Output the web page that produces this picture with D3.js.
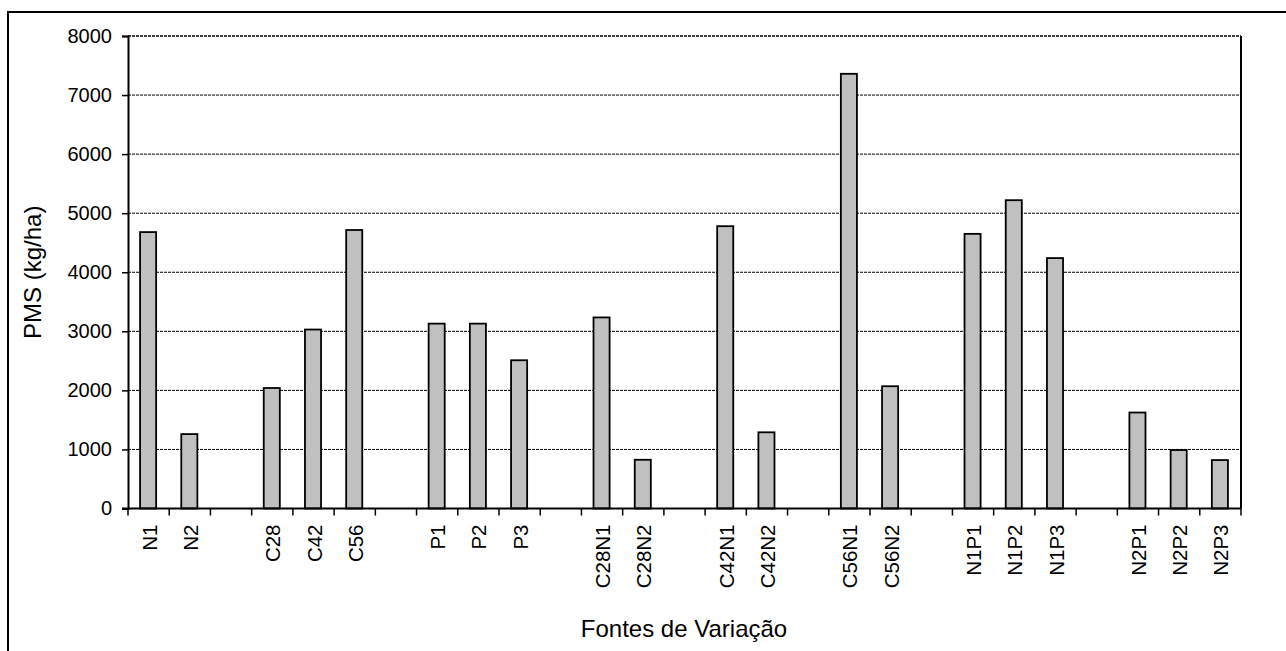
<!DOCTYPE html>
<html>
<head>
<meta charset="utf-8">
<script src="https://cdn.jsdelivr.net/npm/d3@7"></script>
<style>
  html, body { margin: 0; padding: 0; background: #fff; }
  svg { display: block; font-family: "Liberation Sans", Arial, sans-serif; }
</style>
</head>
<body>
<svg id="chart" width="1286" height="651"></svg>
<script>
// Categories ("" = empty slot separating groups)
const categories = ["N1","N2","","C28","C42","C56","","P1","P2","P3","","C28N1","C28N2","","C42N1","C42N2","","C56N1","C56N2","","N1P1","N1P2","N1P3","","N2P1","N2P2","N2P3"];
const values = [4680,1260,null,2040,3030,4715,null,3130,3130,2510,null,3235,825,null,4780,1290,null,7360,2070,null,4650,5220,4240,null,1625,990,820];
const yTicks = [0,1000,2000,3000,4000,5000,6000,7000,8000];
const yTitle = "PMS (kg/ha)";
const xTitle = "Fontes de Variação";

(function () {
const svg = d3.select("#chart");
const mLeft = 128, mRight = 1241, mTop = 36, mBottom = 508.5;
const FONT = "Liberation Sans, Arial, sans-serif";

// outer frame
svg.append("rect").attr("x", 8).attr("y", 12).attr("width", 1300).attr("height", 700)
  .attr("fill", "none").attr("stroke", "#000").attr("stroke-width", 2);

const x = d3.scaleBand().domain(d3.range(categories.length)).range([mLeft, mRight]).paddingInner(0).paddingOuter(0);
const y = d3.scaleLinear().domain([0, 8000]).range([mBottom, mTop]);

// gridlines
svg.append("g").selectAll("line").data(yTicks.filter(d => d > 0)).join("line")
  .attr("x1", mLeft).attr("x2", mRight)
  .attr("y1", d => y(d)).attr("y2", d => y(d))
  .attr("stroke", "#000").attr("stroke-width", d => d === 8000 ? 1.5 : 1).attr("stroke-dasharray", "3,1");

// right border
svg.append("line").attr("x1", mRight).attr("x2", mRight).attr("y1", mTop).attr("y2", mBottom)
  .attr("stroke", "#000").attr("stroke-width", 2);

// bars
const bw = x.bandwidth() * 0.39;
svg.append("g").selectAll("rect")
  .data(values.map((v, i) => ({v, i})).filter(d => d.v !== null))
  .join("rect")
  .attr("x", d => x(d.i) + x.bandwidth() / 2 - bw / 2 - 0.5)
  .attr("width", bw)
  .attr("y", d => y(d.v))
  .attr("height", d => y(0) - y(d.v))
  .attr("fill", "#c0c0c0").attr("stroke", "#000").attr("stroke-width", 1.8);

// y axis
const yAxis = d3.axisLeft(y).tickValues(yTicks).tickSize(6).tickPadding(10).tickFormat(d3.format("d"));
const gy = svg.append("g").attr("transform", `translate(${mLeft},0)`).call(yAxis);
gy.select(".domain").attr("stroke-width", 2);
gy.selectAll(".tick line").attr("stroke-width", 1.5);
gy.selectAll("text").attr("font-size", 20).attr("fill", "#000").attr("font-family", FONT);

// x axis: ticks at slot boundaries
const gx = svg.append("g");
gx.append("line").attr("x1", mLeft - 6).attr("x2", mRight).attr("y1", mBottom).attr("y2", mBottom)
  .attr("stroke", "#000").attr("stroke-width", 2);
gx.selectAll("line.tk").data(d3.range(categories.length + 1)).join("line").attr("class", "tk")
  .attr("x1", i => mLeft + i * x.step()).attr("x2", i => mLeft + i * x.step())
  .attr("y1", mBottom).attr("y2", mBottom + 7)
  .attr("stroke", "#000").attr("stroke-width", 1.5);
gx.selectAll("text").data(categories.map((c, i) => ({c, i})).filter(d => d.c !== "")).join("text")
  .attr("transform", d => `translate(${x(d.i) + x.bandwidth() / 2 + 8},${mBottom + 16}) rotate(-90)`)
  .attr("text-anchor", "end")
  .attr("font-size", 20.5).attr("fill", "#000").attr("font-family", FONT)
  .text(d => d.c);

// titles
svg.append("text").attr("transform", `translate(41,${(mTop + mBottom) / 2}) rotate(-90)`)
  .attr("text-anchor", "middle").attr("font-size", 24).attr("font-family", FONT).text(yTitle);
svg.append("text").attr("x", 684).attr("y", 637)
  .attr("text-anchor", "middle").attr("font-size", 24).attr("font-family", FONT).text(xTitle);
})();
</script>
</body>
</html>
